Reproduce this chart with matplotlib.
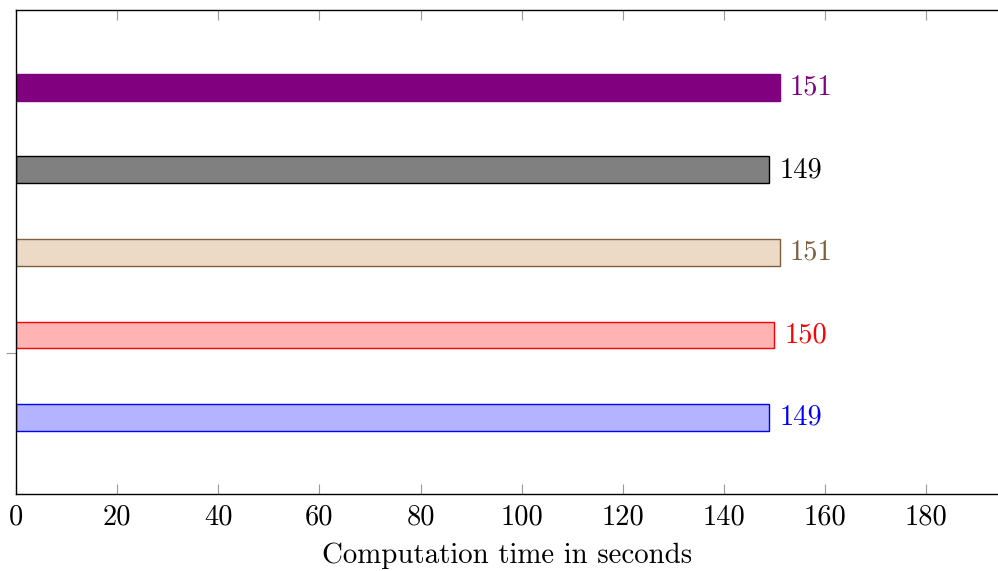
import matplotlib
matplotlib.use("Agg")
import matplotlib.pyplot as plt

plt.rcParams['font.family'] = 'serif'
plt.rcParams['font.serif'] = ['cmr10', 'DejaVu Serif']
plt.rcParams['mathtext.fontset'] = 'cm'
plt.rcParams['axes.formatter.use_mathtext'] = True

# bars from bottom to top
times = [149, 150, 151, 149, 151]
fills = ['#B3B3FF', '#FFB3B3', '#ECD9C6', '#808080', '#800080']
edges = ['#0000FF', '#FF0000', '#7F5F3F', '#000000', '#800080']
text_cols = ['#0000FF', '#FF0000', '#7F5F3F', '#000000', '#800080']
xticks = [0, 20, 40, 60, 80, 100, 120, 140, 160, 180]

fig = plt.figure(figsize=(9.98, 5.71), dpi=100)
ax = fig.add_axes([16/998, 1 - 493.5/571, 982/998, 483.5/571])

pos = list(range(len(times)))
ax.barh(pos, times, height=0.327, color=fills, edgecolor=edges, linewidth=1)

for p, t, c in zip(pos, times, text_cols):
    ax.text(t + 2, p, str(t), color=c, fontsize=20.5, va='center', ha='left')

ax.set_xlim(0, 194.2)
ax.set_ylim(-0.921, 4.939)
ax.set_xticks(xticks)
ax.set_xticklabels([str(v) for v in xticks], fontsize=20.5)
ax.set_yticks([0.782])
ax.set_yticklabels([''])
ax.tick_params(axis='x', direction='in', length=7.5, width=0.8, color='#999999',
               top=True, pad=7.5)
ax.tick_params(axis='y', direction='out', length=7.5, width=0.8, color='#999999')
ax.spines['right'].set_visible(False)
for s in ['left', 'top', 'bottom']:
    ax.spines[s].set_linewidth(1)
ax.set_xlabel('Computation time in seconds', fontsize=20.8, labelpad=9)

fig.savefig('out.png', dpi=100)
